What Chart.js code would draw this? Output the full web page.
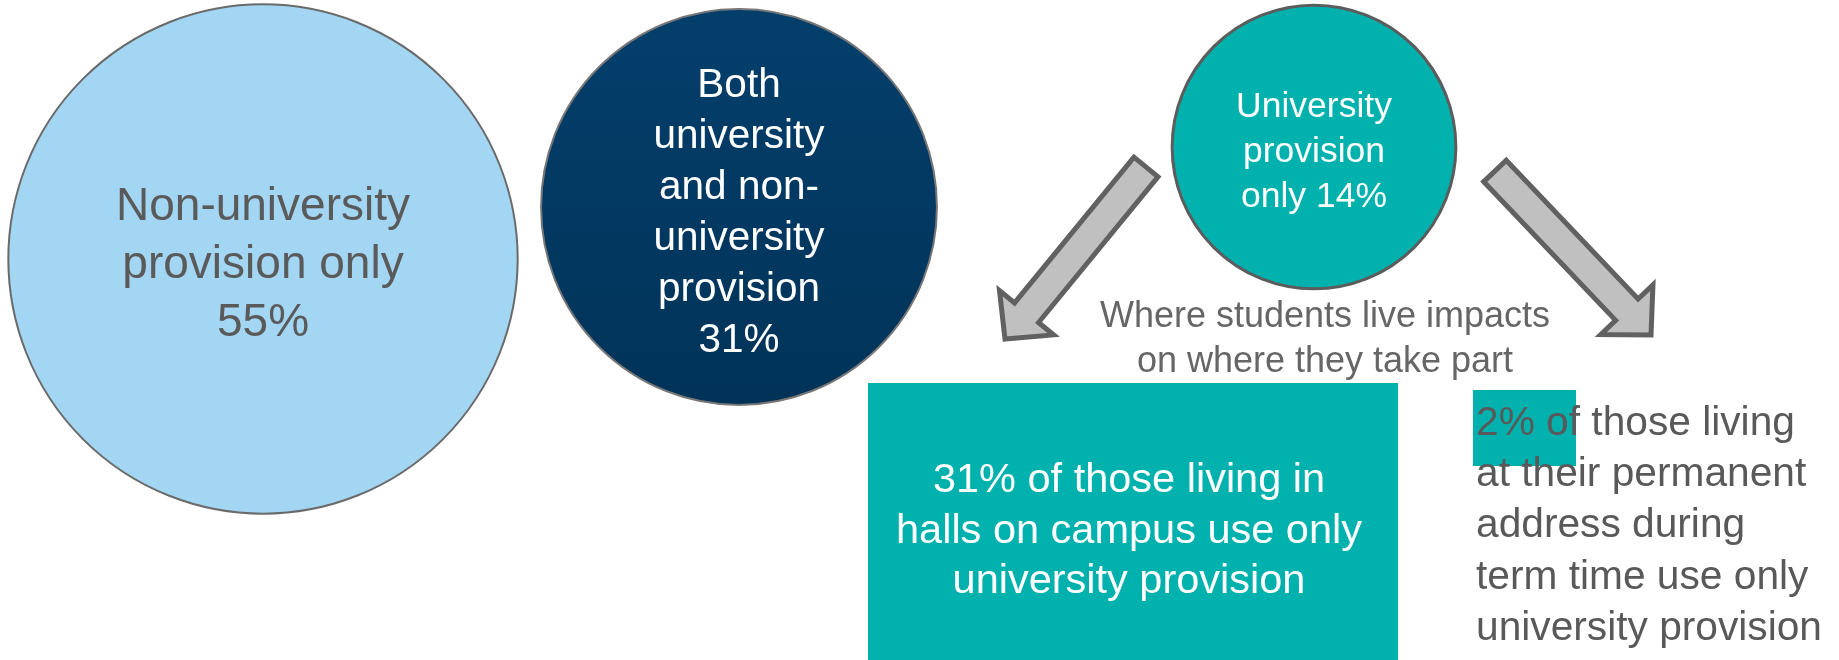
<!DOCTYPE html>
<html>
<head>
<meta charset="utf-8">
<title>Where students take part</title>
<script src="https://cdn.jsdelivr.net/npm/chart.js@4.4.0/dist/chart.umd.min.js"></script>
<style>
body{margin:0;background:#fff;}
#myChart{display:block;}
</style>
</head>
<body>
<canvas id="myChart" width="1839" height="660"></canvas>
<script>
// share of students by the kind of provision they use
const groups = ['Non-university provision only', 'Both university and non-university provision', 'University provision only'];
const shares = [55, 31, 14];
// text written in each circle, {v} is the share
const groupLines = [
    ['Non-university', 'provision only', '{v}%'],
    ['Both', 'university', 'and non-', 'university', 'provision', '{v}%'],
    ['University', 'provision', 'only {v}%']
];
const noteLines = ['Where students live impacts', 'on where they take part'];
const hallsShare = 31;
const hallsLines = ['{v}% of those living in', 'halls on campus use only', 'university provision'];
const homeShare = 2;
const homeLines = ['{v}% of those living', 'at their permanent', 'address during', 'term time use only', 'university provision'];

// layout, in the units of the hidden x / y scales
const circleX = [263, 739, 1314];
const circleY = [259, 207, 147];
const circleFont = [46, 40.5, 35.5];
const circleLineH = [58, 51, 45];
const circleText = ['#5a5a5a', '#ffffff', '#ffffff'];
const circleBorder = [2, 2, 3];

const teal = '#00b1ad';
const font = '"Liberation Sans", Arial, Helvetica, sans-serif';

// radius grows with the square root of the share
function radiusFor(v){
    return 27 + 30.7 * Math.sqrt(v);
}

function fillFor(c){
    const i = c.dataIndex;
    if(i == 0) return '#a3d6f2';
    if(i == 2) return teal;
    const chart = c.chart;
    if(!chart.chartArea) return '#033a63';
    const cy = chart.scales.y.getPixelForValue(circleY[1]);
    const r = radiusFor(shares[1]);
    const g = chart.ctx.createLinearGradient(0, cy - r, 0, cy + r);
    g.addColorStop(0, '#043f6c');
    g.addColorStop(1, '#013358');
    return g;
}

function fill(lines, v){
    return lines.map(l => l.replace('{v}', v));
}

function drawLines(ctx, lines, x, y, lh, size, color, align){
    ctx.save();
    ctx.font = size + 'px ' + font;
    ctx.fillStyle = color;
    ctx.textAlign = align;
    ctx.textBaseline = 'alphabetic';
    lines.forEach((l, i) => ctx.fillText(l, x, y + i * lh));
    ctx.restore();
}

// block arrow from the shaft start to the tip
function drawArrow(ctx, sx, sy, tx, ty, shaftW, headW, headL){
    const len = Math.hypot(tx - sx, ty - sy);
    const dx = (tx - sx) / len, dy = (ty - sy) / len;
    const nx = -dy, ny = dx;
    const bx = tx - dx * headL, by = ty - dy * headL;
    const s = shaftW / 2, h = headW / 2;
    ctx.save();
    ctx.beginPath();
    ctx.moveTo(sx + nx * s, sy + ny * s);
    ctx.lineTo(bx + nx * s, by + ny * s);
    ctx.lineTo(bx + nx * h, by + ny * h);
    ctx.lineTo(tx, ty);
    ctx.lineTo(bx - nx * h, by - ny * h);
    ctx.lineTo(bx - nx * s, by - ny * s);
    ctx.lineTo(sx - nx * s, sy - ny * s);
    ctx.closePath();
    ctx.fillStyle = '#c0c0c0';
    ctx.fill();
    ctx.lineWidth = 5;
    ctx.lineJoin = 'miter';
    ctx.strokeStyle = '#616161';
    ctx.stroke();
    ctx.restore();
}

const annotations = {
    id: 'annotations',
    afterDatasetsDraw(chart){
        const ctx = chart.ctx;
        const X = v => chart.scales.x.getPixelForValue(v);
        const Y = v => chart.scales.y.getPixelForValue(v);

        // circle captions
        shares.forEach((v, i) => {
            const lines = fill(groupLines[i], v);
            const n = lines.length;
            const top = Y(circleY[i]) - (n - 1) / 2 * circleLineH[i] + 0.42 * circleFont[i];
            drawLines(ctx, lines, X(circleX[i]), top, circleLineH[i], circleFont[i], circleText[i], 'center');
        });

        // arrows out of the university-only circle
        drawArrow(ctx, X(1146), Y(167), X(1005), Y(339), 31, 70, 34);
        drawArrow(ctx, X(1495), Y(171), X(1651), Y(335), 31, 72, 35);

        drawLines(ctx, noteLines, X(1325), Y(327), 45, 36, '#666666', 'center');

        // halls box
        ctx.fillStyle = teal;
        ctx.fillRect(X(868), Y(383), X(1398) - X(868), Y(662) - Y(383));
        drawLines(ctx, fill(hallsLines, hallsShare), X(1129), Y(492), 50.5, 41.5, '#ffffff', 'center');

        // permanent address note
        ctx.fillStyle = teal;
        ctx.fillRect(X(1473), Y(390), X(1576) - X(1473), Y(466) - Y(390));
        drawLines(ctx, fill(homeLines, homeShare), X(1476), Y(435), 51.2, 40.7, '#595959', 'left');
    }
};

const ctx = document.getElementById('myChart').getContext('2d');
const myChart = new Chart(ctx, {
    type: 'bubble',
    data: {
        labels: groups,
        datasets: [{
            label: 'Provision used',
            data: shares.map((v, i) => ({x: circleX[i], y: circleY[i], r: radiusFor(v)})),
            backgroundColor: fillFor,
            borderColor: ['#6a6a6a', '#777777', '#5c5c5c'],
            borderWidth: circleBorder,
            clip: false
        }]
    },
    options: {
        responsive: false,
        animation: false,
        events: [],
        layout: {padding: 0, autoPadding: false},
        plugins: {
            legend: {display: false},
            tooltip: {enabled: false}
        },
        scales: {
            x: {type: 'linear', min: 0, max: 1839, display: false},
            y: {type: 'linear', min: 0, max: 660, reverse: true, display: false}
        }
    },
    plugins: [annotations]
});
</script>
</body>
</html>
